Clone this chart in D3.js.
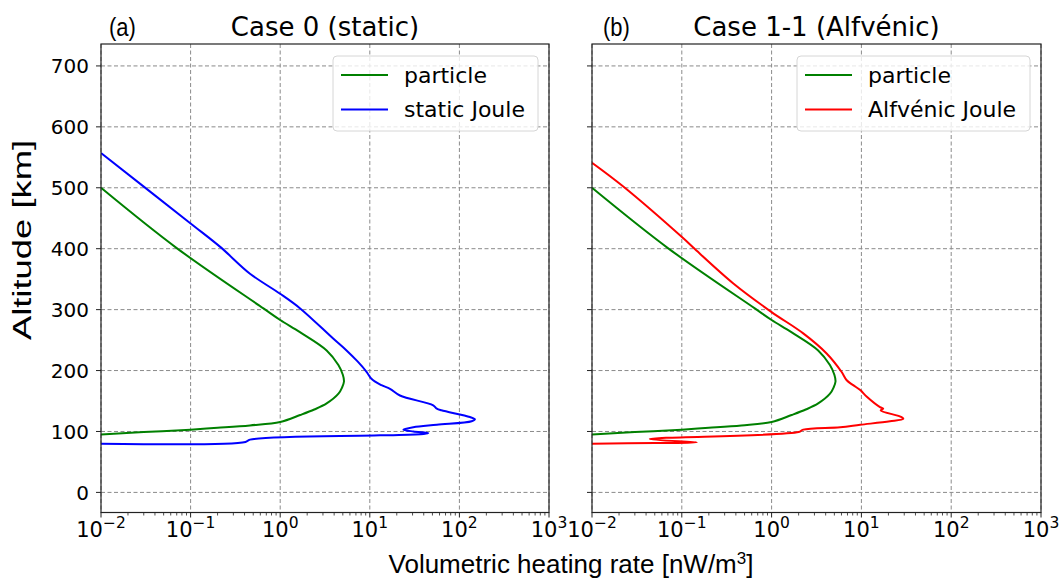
<!DOCTYPE html>
<html>
<head>
<meta charset="utf-8">
<script src="https://cdn.jsdelivr.net/npm/d3@7.9.0/dist/d3.min.js"></script>
<style>
  body { margin: 0; background: #fff; }
  svg { display: block; }
  .tick-label { font-family: 'DejaVu Sans', sans-serif; font-size: 20px; fill: #000; }
</style>
</head>
<body>
<svg id="chart" width="1063" height="580"></svg>
<script>
// ---- data (value in nW/m^3, altitude in km), listed along each curve from top to bottom
const particleVal = [0.01, 0.070, 0.65, 1.0, 1.66, 3.3, 4.46, 5.0, 5.15, 4.9, 4.47, 3.3, 2.4, 1.67, 1.0, 0.46, 0.2, 0.1, 0.03, 0.01];
const particleAlt = [500, 401, 302, 283, 263, 233, 209, 193, 182, 172, 162, 146, 136, 127, 115.5, 110, 106, 103, 99, 95];

const staticVal = [0.01, 0.1, 0.214, 0.46, 1.0, 1.67, 3.9, 5.5, 7.3, 9.2, 10.5, 13.5, 16.8, 21.7, 51, 56, 63, 131, 149, 137, 56, 30.6, 23.7, 30.6, 45, 40, 13, 0.46, 0.41, 0.01];
const staticAlt = [557, 441.5, 403, 359, 326, 302, 252.5, 233, 215, 198, 186, 176, 170, 159, 143, 137.5, 134.7, 123.7, 120, 116.7, 111, 107, 103, 100, 97.5, 96, 93.6, 86.6, 82.7, 80];

const alfvenVal = [0.01, 0.0223, 0.104, 0.135, 0.375, 1.0, 2.25, 4.1, 6.0, 6.86, 8.1, 9.7, 11.5, 16.1, 17.5, 16.4, 28, 29.3, 20.8, 9.7, 5.8, 2.25, 2.0, 0.044, 0.147, 0.05, 0.01];
const alfvenAlt = [541, 502, 417, 401.5, 343, 296, 261, 228, 198, 184, 176, 168, 157, 140, 137.5, 134.7, 123.7, 121, 116.7, 111, 107, 103, 99, 87.5, 82, 81, 80];

const xTickExp = [-2, -1, 0, 1, 2, 3];
const yTicks = [0, 100, 200, 300, 400, 500, 600, 700];

const panels = [
  { tag: '(a)', title: 'Case 0 (static)', left: 101, right: 549, tagX: 109, yLabels: true,
    series: [
      { name: 'particle', color: '#008000', vals: particleVal, alts: particleAlt },
      { name: 'static Joule', color: '#0000ff', vals: staticVal, alts: staticAlt }
    ],
    legend: { x0: 333, x1: 538 } },
  { tag: '(b)', title: 'Case 1-1 (Alfvénic)', left: 592, right: 1041, tagX: 603, yLabels: false,
    series: [
      { name: 'particle', color: '#008000', vals: particleVal, alts: particleAlt },
      { name: 'Alfvénic Joule', color: '#ff0000', vals: alfvenVal, alts: alfvenAlt }
    ],
    legend: { x0: 797, x1: 1030 } }
];

const plotTop = 44, plotBottom = 512.5;
const svg = d3.select('#chart');
const y = d3.scaleLinear().domain([-33, 736]).range([plotBottom, plotTop]);

panels.forEach((p, pi) => {
  const x = d3.scaleLog().domain([1e-2, 1e3]).range([p.left, p.right]);
  const g = svg.append('g');

  // clip
  svg.append('clipPath').attr('id', 'clip' + pi)
    .append('rect').attr('x', p.left).attr('y', plotTop)
    .attr('width', p.right - p.left).attr('height', plotBottom - plotTop);

  // grid
  g.selectAll('.gx').data(xTickExp).join('line')
    .attr('x1', d => x(Math.pow(10, d))).attr('x2', d => x(Math.pow(10, d)))
    .attr('y1', plotTop).attr('y2', plotBottom)
    .attr('stroke', '#8a8a8a').attr('stroke-width', 1).attr('stroke-dasharray', '4,2.5');
  g.selectAll('.gy').data(yTicks).join('line')
    .attr('x1', p.left).attr('x2', p.right)
    .attr('y1', d => y(d)).attr('y2', d => y(d))
    .attr('stroke', '#8a8a8a').attr('stroke-width', 1).attr('stroke-dasharray', '4,2.5');

  // curves
  const line = d3.line().x(d => x(d[0])).y(d => y(d[1])).curve(d3.curveCatmullRom.alpha(0.5));
  p.series.forEach(s => {
    g.append('path')
      .datum(s.vals.map((v, i) => [v, s.alts[i]]))
      .attr('d', line)
      .attr('clip-path', `url(#clip${pi})`)
      .attr('fill', 'none').attr('stroke', s.color).attr('stroke-width', 2)
      .attr('stroke-linejoin', 'round');
  });

  // x ticks (major + minor)
  const minor = [];
  for (let e = -2; e < 3; e++) for (let m = 2; m <= 9; m++) minor.push(m * Math.pow(10, e));
  g.selectAll('.mx').data(minor).join('line')
    .attr('x1', d => x(d)).attr('x2', d => x(d))
    .attr('y1', plotBottom).attr('y2', plotBottom + 3)
    .attr('stroke', '#222').attr('stroke-width', 0.8);
  g.selectAll('.tx').data(xTickExp).join('line')
    .attr('x1', d => x(Math.pow(10, d))).attr('x2', d => x(Math.pow(10, d)))
    .attr('y1', plotBottom).attr('y2', plotBottom + 5)
    .attr('stroke', '#222').attr('stroke-width', 1);
  xTickExp.forEach(e => {
    const t = g.append('text').attr('class', 'tick-label')
      .attr('x', x(Math.pow(10, e))).attr('y', 537).attr('text-anchor', 'middle')
      .style('font-size', '21px');
    t.append('tspan').text('10');
    t.append('tspan').attr('dy', -9).style('font-size', '15.5px').text(String(e).replace('-', '\u2212'));
  });

  // y ticks
  g.selectAll('.ty').data(yTicks).join('line')
    .attr('x1', p.left - 5).attr('x2', p.left)
    .attr('y1', d => y(d)).attr('y2', d => y(d))
    .attr('stroke', '#222').attr('stroke-width', 1);
  if (p.yLabels) {
    g.selectAll('.ly').data(yTicks).join('text').attr('class', 'tick-label')
      .attr('x', p.left - 12).attr('y', d => y(d)).attr('dy', '0.36em')
      .attr('text-anchor', 'end').text(d => d);
  }

  // frame
  g.append('rect').attr('x', p.left).attr('y', plotTop)
    .attr('width', p.right - p.left).attr('height', plotBottom - plotTop)
    .attr('fill', 'none').attr('stroke', '#222').attr('stroke-width', 1.2);

  // titles
  g.append('text').attr('x', (p.left + p.right) / 2).attr('y', 36)
    .attr('text-anchor', 'middle').attr('font-family', 'DejaVu Sans').attr('font-size', 26)
    .text(p.title);
  g.append('text').attr('transform', `translate(${p.tagX},36) scale(1,1.2)`)
    .attr('font-family', 'Liberation Sans').attr('font-size', 22)
    .text(p.tag);

  // legend
  const L = p.legend;
  g.append('rect').attr('x', L.x0).attr('y', 56).attr('width', L.x1 - L.x0).attr('height', 75)
    .attr('rx', 4).attr('fill', '#fff').attr('fill-opacity', 0.8)
    .attr('stroke', '#d6d6d6').attr('stroke-width', 1);
  p.series.forEach((s, i) => {
    const ry = 75 + i * 34.5;
    g.append('line').attr('x1', L.x0 + 8).attr('x2', L.x0 + 55).attr('y1', ry).attr('y2', ry)
      .attr('stroke', s.color).attr('stroke-width', 2);
    g.append('text').attr('x', L.x0 + 71).attr('y', ry).attr('dy', '0.36em')
      .attr('font-family', 'DejaVu Sans').attr('font-size', 22).text(s.name);
  });
});

// axis labels
svg.append('text').attr('x', 571).attr('y', 573).attr('text-anchor', 'middle')
  .attr('font-family', 'Liberation Sans').attr('font-size', 26)
  .html('Volumetric heating rate [nW/m<tspan dy="-9" font-size="17">3</tspan><tspan dy="9">]</tspan>');
svg.append('text').attr('transform', 'translate(31,240) rotate(-90) scale(1.4,1)').attr('text-anchor', 'middle')
  .attr('font-family', 'Liberation Sans').attr('font-size', 26)
  .text('Altitude [km]');
</script>
</body>
</html>
